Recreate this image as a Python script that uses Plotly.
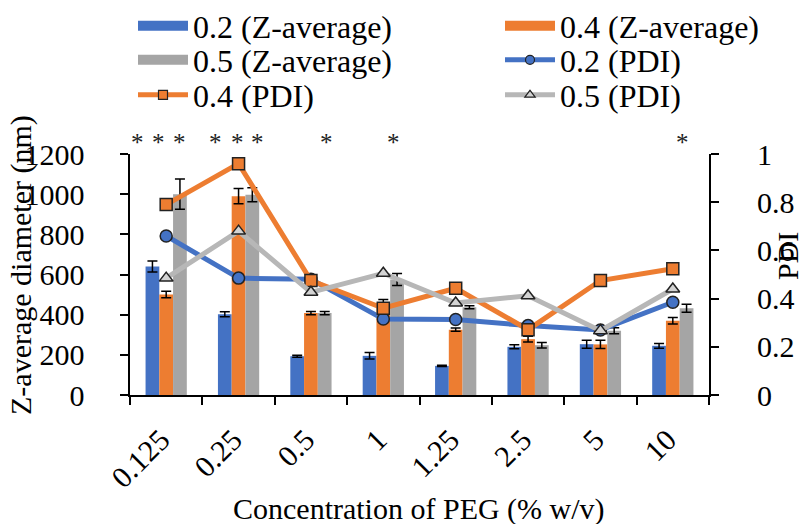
import plotly.graph_objects as go

# PEG concentration (% w/v) on the x axis
categories = ["0.125", "0.25", "0.5", "1", "1.25", "2.5", "5", "10"]

# Z-average diameter (nm) with standard deviations
z_avg_02 = [640, 402, 193, 195, 145, 240, 253, 245]
z_err_02 = [27, 12, 5, 16, 3, 10, 20, 12]
z_avg_04 = [500, 990, 408, 460, 325, 278, 252, 370]
z_err_04 = [16, 38, 8, 15, 8, 14, 20, 16]
z_avg_05 = [1000, 997, 408, 575, 437, 248, 320, 432]
z_err_05 = [75, 35, 8, 30, 8, 14, 15, 20]

# Polydispersity index
pdi_02 = [0.66, 0.485, 0.48, 0.315, 0.313, 0.288, 0.27, 0.385]
pdi_04 = [0.79, 0.96, 0.475, 0.36, 0.443, 0.271, 0.475, 0.524]
pdi_05 = [0.485, 0.68, 0.426, 0.505, 0.382, 0.412, 0.267, 0.44]

# significance marks: (category, offset within group in category units)
stars = [("0.125", -0.39), ("0.125", -0.10), ("0.125", 0.19),
         ("0.25", -0.32), ("0.25", -0.02), ("0.25", 0.26),
         ("0.5", 0.21), ("1", 0.14), ("10", 0.14)]

BLUE = "#4472C4"
ORANGE = "#ED7D31"
GRAY = "#A5A5A5"
GRAY_LINE = "#B7B7B7"
TRI_FILL = "#D3D3D3"
EDGE = "#222222"
FONT = "Liberation Serif, Times New Roman, serif"
FS = 30
NBSP = "\u00a0"
THIN = "\u2009"

# plot-area geometry in pixels
W, H = 806, 524
L, R, T, B = 130, 97, 154, 129
PW, PH = W - L - R, H - T - B


def px_x(px):
    return (px - L) / PW


def px_y(py):
    return (H - B - py) / PH


fig = go.Figure()

bar_series = [("0.2 (Z-average)", z_avg_02, z_err_02, BLUE),
              ("0.4 (Z-average)", z_avg_04, z_err_04, ORANGE),
              ("0.5 (Z-average)", z_avg_05, z_err_05, GRAY)]
for name, vals, errs, col in bar_series:
    fig.add_trace(go.Bar(
        x=categories, y=vals, name=name, marker_color=col, marker_line_width=0,
        error_y=dict(type="data", array=errs, color="black", thickness=1.5, width=5),
        showlegend=False, yaxis="y"))

line_series = [("0.2 (PDI)", pdi_02, BLUE, BLUE, "circle"),
               ("0.4 (PDI)", pdi_04, ORANGE, ORANGE, "square"),
               ("0.5 (PDI)", pdi_05, GRAY_LINE, TRI_FILL, "triangle-up")]
for name, vals, col, fill, sym in line_series:
    fig.add_trace(go.Scatter(
        x=categories, y=vals, name=name, mode="lines+markers",
        line=dict(color=col, width=5),
        marker=dict(symbol=sym, size=12, color=fill, line=dict(color=EDGE, width=1.5)),
        showlegend=False, yaxis="y2"))

# legend entries: one small legend per entry, in two columns and three rows
legend_entries = [
    ("0.2 (Z-average)", BLUE, None, None, 0, 0),
    ("0.4 (Z-average)", ORANGE, None, None, 1, 0),
    ("0.5 (Z-average)", GRAY, None, None, 0, 1),
    ("0.2 (PDI)", BLUE, BLUE, "circle", 1, 1),
    ("0.4 (PDI)", ORANGE, ORANGE, "square", 0, 2),
    ("0.5 (PDI)", GRAY_LINE, TRI_FILL, "triangle-up", 1, 2),
]
col_px = [133, 500]
row_px = [26, 60, 95]
legend_style = dict(orientation="h", xanchor="left", yanchor="middle", itemwidth=50,
                    bgcolor="rgba(0,0,0,0)", font=dict(family=FONT, size=32, color="black"),
                    itemclick=False, itemdoubleclick=False)
legends = {}
for i, (name, col, fill, sym, c, r) in enumerate(legend_entries):
    lid = "legend" if i == 0 else f"legend{i + 1}"
    legends[lid] = dict(legend_style, x=px_x(col_px[c]), y=px_y(row_px[r]))
    if sym is None:
        fig.add_trace(go.Scatter(x=[None], y=[None], name=name, mode="lines",
                                 line=dict(color=col, width=15), legend=lid))
    else:
        fig.add_trace(go.Scatter(x=[None], y=[None], name=name, mode="lines+markers",
                                 line=dict(color=col, width=5),
                                 marker=dict(symbol=sym, size=9, color=fill,
                                             line=dict(color=EDGE, width=1.2)),
                                 legend=lid))

for cat, off in stars:
    fig.add_annotation(x=categories.index(cat) + off, xref="x",
                       y=px_y(142), yref="paper",
                       text="*", showarrow=False, yanchor="middle",
                       font=dict(family=FONT, size=25, color="#222222"))

# axis titles
fig.add_annotation(text="Z-average diameter (nm)", textangle=-90, showarrow=False,
                   x=px_x(21), xref="paper", xanchor="center",
                   y=px_y(265), yref="paper", yanchor="middle",
                   font=dict(family=FONT, size=30, color="black"))
fig.add_annotation(text="PDI", textangle=-90, showarrow=False,
                   x=px_x(787), xref="paper", xanchor="center",
                   y=px_y(256), yref="paper", yanchor="middle",
                   font=dict(family=FONT, size=30, color="black"))
fig.add_annotation(text="Concentration of PEG (% w/v)", showarrow=False,
                   x=px_x(419), xref="paper", xanchor="center",
                   y=px_y(509), yref="paper", yanchor="middle",
                   font=dict(family=FONT, size=FS, color="black"))

axis_common = dict(showline=True, linecolor="black", linewidth=2, ticks="outside",
                   ticklen=8, tickwidth=2, tickcolor="black", showgrid=False,
                   zeroline=False, tickfont=dict(family=FONT, size=FS, color="black"))

fig.update_layout(
    width=W, height=H,
    margin=dict(l=L, r=R, t=T, b=B, autoexpand=False),
    paper_bgcolor="white", plot_bgcolor="white",
    font=dict(family=FONT, size=FS, color="black"),
    barmode="group", bargap=0.43, bargroupgap=0,
    xaxis=dict(axis_common, type="category", tickson="boundaries", tickangle=-45,
               range=[-0.5, 7.5], automargin=False, ticklabelstandoff=8,
               ticksuffix=NBSP),
    yaxis=dict(axis_common, range=[0, 1200], dtick=200, ticklabelstandoff=22,
               automargin=False, ticksuffix=NBSP),
    yaxis2=dict(axis_common, range=[0, 1], dtick=0.2, overlaying="y", side="right",
                ticklabelstandoff=20, automargin=False, tickprefix=THIN + THIN),
    **legends,
)

fig.write_html("out.html")
